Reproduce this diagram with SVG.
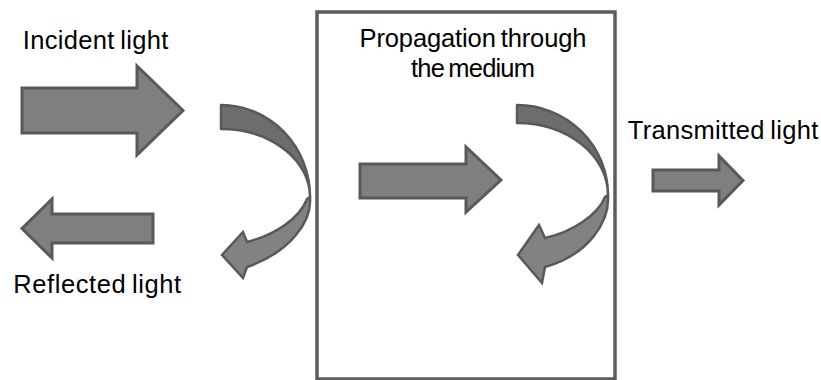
<svg xmlns="http://www.w3.org/2000/svg" width="821" height="380" viewBox="0 0 821 380">
<style>
.lbl{font-family:"Liberation Sans",Arial,sans-serif;font-size:25.5px;fill:#000;word-spacing:-2px}
.arr{fill:#7f7f7f;stroke:#595959;stroke-width:3;stroke-linejoin:miter}
.back{fill:#6d6d6d;stroke:#595959;stroke-width:2.5;stroke-linejoin:round}
.front{fill:#828282;stroke:#595959;stroke-width:2.5;stroke-linejoin:miter}
.box{fill:none;stroke:#5c5c5c;stroke-width:3.5}
</style>
<rect width="821" height="380" fill="#fff"/>
<g id="medium">
<rect class="box" x="317" y="12" width="298" height="367"/>
<text class="lbl" x="473" y="47" text-anchor="middle" textLength="227" lengthAdjust="spacing">Propagation through</text>
<text class="lbl" x="473" y="77" text-anchor="middle" textLength="124" lengthAdjust="spacing">the medium</text>
</g>
<g id="incident">
<text class="lbl" x="22.7" y="49.3" textLength="145.6" lengthAdjust="spacing">Incident light</text>
<polygon class="arr" points="22,88 137,88 137,66 183,110.5 137,155 137,133 22,133"/>
</g>
<g id="reflected">
<polygon class="arr" points="153,214 52,214 52,199 22,228.5 52,258 52,243 153,243"/>
<text class="lbl" x="13.3" y="293.3" textLength="167.7" lengthAdjust="spacing">Reflected light</text>
</g>
<g id="transmitted">
<text class="lbl" x="627.7" y="139.3" textLength="190.6" lengthAdjust="spacing">Transmitted light</text>
<polygon class="arr" points="653,170 719,170 719,156 743,180.5 719,205 719,191 653,191"/>
</g>
<g id="connectors">
<polygon class="arr" points="360,164 466,164 466,147 501,180 466,212 466,198 360,198"/>
<g id="curve1">
<path class="back" d="M221,105 A89,92 0 0 1 310,197 A89,68 0 0 0 221,129 Z"/>
<path class="front" d="M310,197 C312,222 290,252 247,267 L243,278 L222,255 L243,232 L247,242 C275,235 300,218 307,199 Z"/>
</g>
<g id="curve2">
<path class="back" d="M517,105 A91,90 0 0 1 608,195 A91,72 0 0 0 517,123 Z"/>
<path class="front" d="M608,195 C610,222 588,255 545,267 L542,283 L518,255 L539,225 L545,238 C572,232 598,215 605,197 Z"/>
</g>
</g>
</svg>
